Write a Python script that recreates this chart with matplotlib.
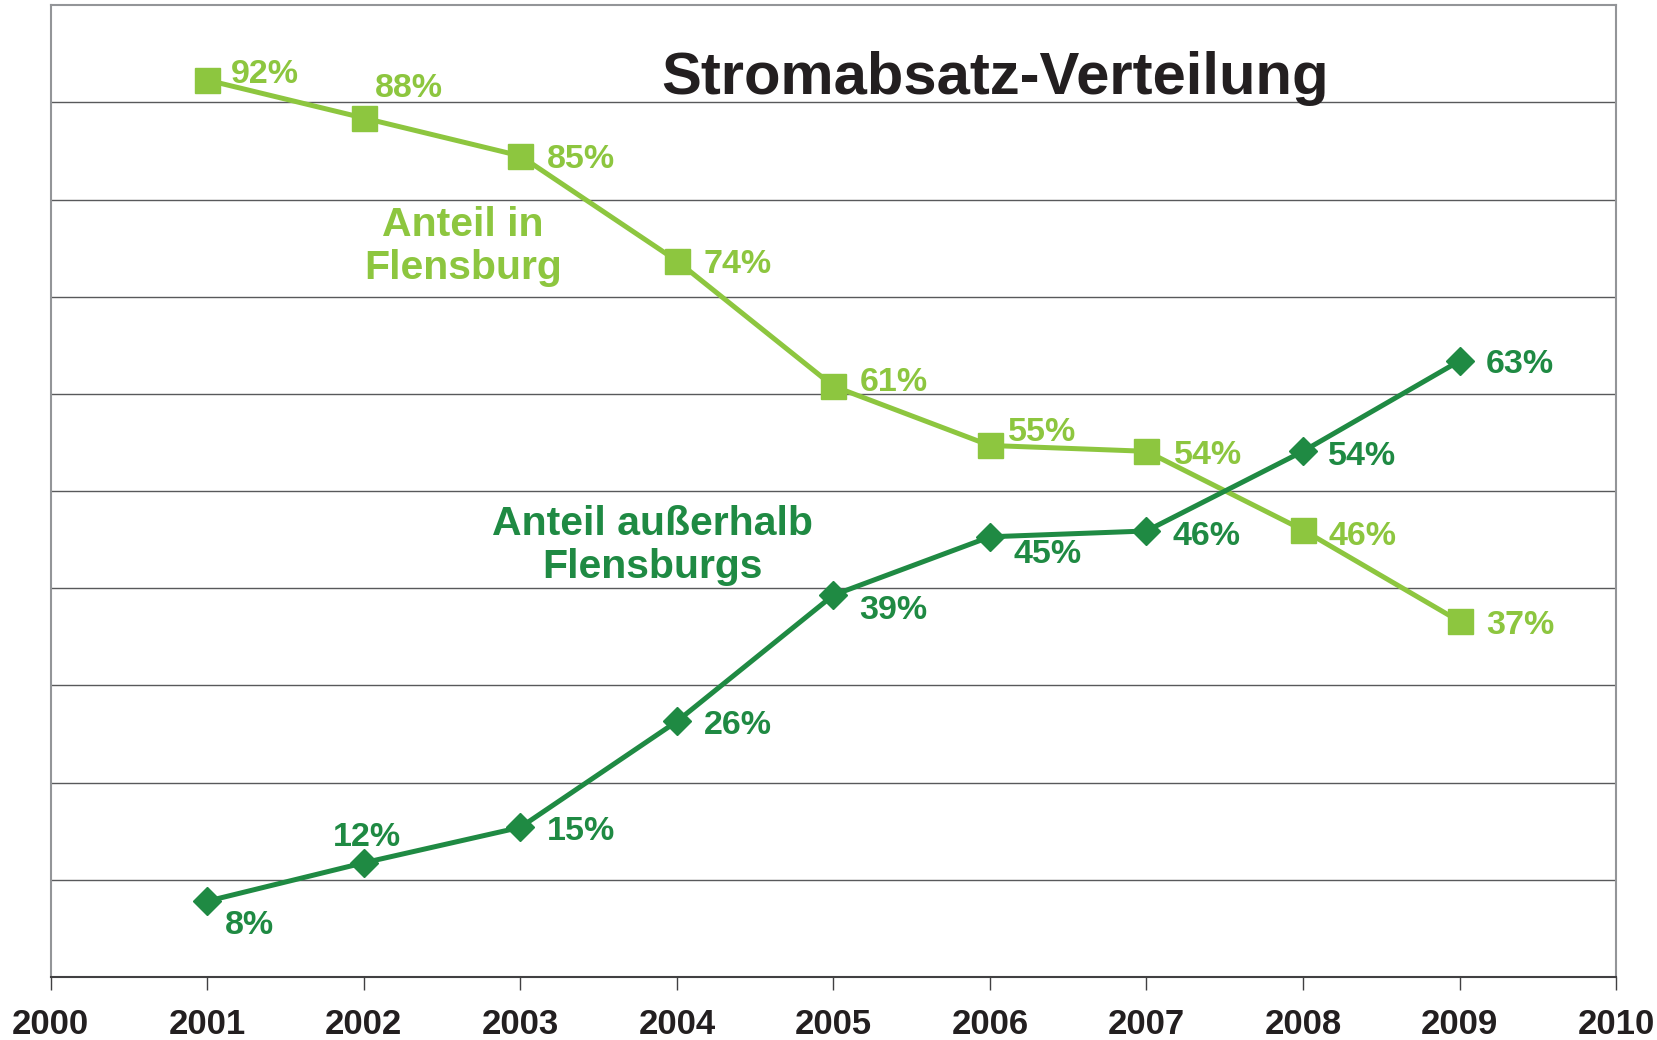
import numpy as np
import matplotlib
matplotlib.use("Agg")
import matplotlib.pyplot as plt

plt.rcParams['font.family'] = ['Liberation Sans', 'DejaVu Sans']

# data
years = [2001, 2002, 2003, 2004, 2005, 2006, 2007, 2008, 2009]
anteil_in = [92.3, 88.4, 84.5, 73.7, 60.8, 54.7, 54.1, 46.0, 36.6]
anteil_aus = [7.8, 11.75, 15.4, 26.3, 39.3, 45.3, 45.9, 54.1, 63.4]
labels_in = ["92%", "88%", "85%", "74%", "61%", "55%", "54%", "46%", "37%"]
labels_aus = ["8%", "12%", "15%", "26%", "39%", "45%", "46%", "54%", "63%"]
xtick_years = list(range(2000, 2011))

# label offsets in pixels (dx, dy) relative to the point, left/center anchored
off_in = [(24, 6, "left"), (45, 30, "center"), (27, -4, "left"), (27, -4, "left"),
          (26, 4, "left"), (18, 13, "left"), (27, -4, "left"), (26, -6, "left"),
          (27, -4, "left")]
off_aus = [(18, -24, "left"), (3, 25, "center"), (27, -4, "left"), (27, -4, "left"),
           (26, -15, "left"), (24, -18, "left"), (26, -6, "left"), (25, -5, "left"),
           (26, -4, "left")]

light = "#8dc63f"
dark = "#1f8a43"
grid_c = "#58595b"

fig = plt.figure(figsize=(16.58, 10.40), dpi=100)
ax = fig.add_axes([0.0306, 0.0606, 0.9441, 0.9343])

ax.set_xlim(2000, 2010)
ax.set_ylim(0, 100)

for yv in range(10, 100, 10):
    ax.axhline(yv, color=grid_c, lw=1.0, zorder=1)

ax.plot(years, anteil_in, color=light, lw=3.6, marker="s", markersize=18,
        zorder=3)
ax.plot(years, anteil_aus, color=dark, lw=3.6, marker="D", markersize=14,
        zorder=4)

for x, y, t, (dx, dy, ha) in zip(years, anteil_in, labels_in, off_in):
    ax.annotate(t, (x, y), xytext=(dx, dy), textcoords="offset pixels",
                ha=ha, va="center", color=light, fontsize=24.5, fontweight="bold")
for x, y, t, (dx, dy, ha) in zip(years, anteil_aus, labels_aus, off_aus):
    ax.annotate(t, (x, y), xytext=(dx, dy), textcoords="offset pixels",
                ha=ha, va="center", color=dark, fontsize=24.5, fontweight="bold")

ax.text(0.603, 0.925, "Stromabsatz-Verteilung", transform=ax.transAxes,
        ha="center", va="center", fontsize=43, fontweight="bold", color="#231f20")
ax.text(0.2635, 0.752, "Anteil in\nFlensburg", transform=ax.transAxes,
        ha="center", va="center", fontsize=29.5, fontweight="bold", color=light,
        linespacing=1.15)
ax.text(0.3845, 0.444, "Anteil außerhalb\nFlensburgs", transform=ax.transAxes,
        ha="center", va="center", fontsize=29.5, fontweight="bold", color=dark,
        linespacing=1.15)

for s in ["left", "right", "top"]:
    ax.spines[s].set_color("#939598")
    ax.spines[s].set_linewidth(1.5)
ax.spines["bottom"].set_color("#414042")
ax.spines["bottom"].set_linewidth(1.5)

ax.set_yticks([])
ax.set_xticks(xtick_years)
ax.set_xticklabels([str(y) for y in xtick_years],
                   family=["Liberation Sans Narrow", "Liberation Sans", "DejaVu Sans"],
                   fontsize=25, fontweight="bold", color="#231f20")
ax.tick_params(axis="x", direction="out", length=9.5, width=1, color="#414042", pad=13)

fig.savefig("out.png", dpi=100)
